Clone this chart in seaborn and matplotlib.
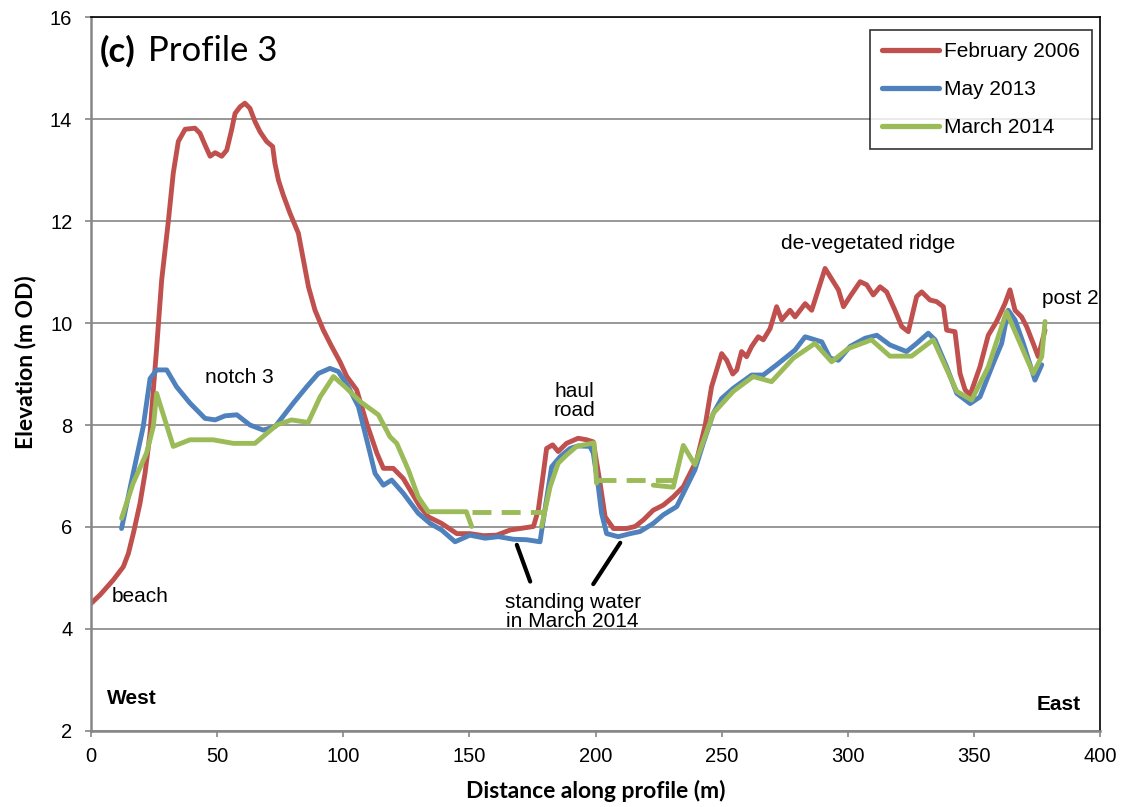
import numpy as np
import pandas as pd
import matplotlib
matplotlib.use("Agg")
import matplotlib.pyplot as plt
from matplotlib.lines import Line2D
import seaborn as sns

# ---------------- data ----------------
series_names = ["February 2006", "May 2013", "March 2014"]
series_colors = ["#C0504D", "#4F81BD", "#9BBB59"]

feb2006_x = [0, 3.6, 8.8, 12.8, 14.8, 16.8, 19.4, 21.4, 23.4, 24.7, 26, 28, 30.7, 32.6, 34.6,
             37.3, 41.2, 43.2, 45.2, 47.2, 49.2, 51.8, 53.8, 55.7, 57.1, 59.1, 61.0, 63.0, 65.0,
             67.0, 69.6, 72.0, 72.9, 74.3, 76.2, 78.9, 82.2, 84.2, 86.2, 88.8, 92.1, 95.4, 98.7,
             101.4, 105.3, 109.3, 113.3, 115.9, 119.8, 123.8, 130.4, 133.7, 139, 145, 150.2,
             155.5, 160.8, 166.1, 170.1, 175.4, 177.3, 179.3, 180.6, 183, 185.2, 188.5, 193.1,
             196.5, 199.1, 201.8, 203.8, 207.1, 212.3, 215.7, 219, 222.9, 226.9, 230.8, 234.8,
             240.1, 243.5, 246, 250, 252, 254.4, 256, 257.9, 259.9, 261.9, 264.5, 266.5, 269.2,
             271.8, 273.8, 277.1, 279.1, 283.1, 285.7, 291, 294.3, 296.3, 298.3, 300.9, 304.9,
             307.5, 310.1, 312.8, 315.4, 318.7, 321.4, 324, 327.3, 329.3, 332.6, 335.2, 337.9,
             339.2, 342.5, 344.5, 346.5, 348.5, 352.4, 355.7, 359, 362.3, 364.3, 366.3, 368.9,
             370.9, 373.5, 375.5, 378.2]
feb2006_y = [4.5, 4.67, 4.96, 5.22, 5.48, 5.88, 6.46, 7.05, 7.84, 8.69, 9.5, 10.84, 12.02, 12.94,
             13.56, 13.8, 13.82, 13.72, 13.49, 13.27, 13.34, 13.27, 13.39, 13.78, 14.11, 14.24,
             14.31, 14.21, 13.95, 13.75, 13.56, 13.46, 13.13, 12.8, 12.51, 12.15, 11.76, 11.24,
             10.71, 10.25, 9.86, 9.54, 9.24, 8.95, 8.69, 8.03, 7.45, 7.15, 7.15, 6.95, 6.4, 6.2,
             6.07, 5.87, 5.87, 5.83, 5.84, 5.94, 5.97, 6.01, 6.33, 7.05, 7.54, 7.61, 7.48, 7.64,
             7.74, 7.71, 7.67, 6.86, 6.2, 5.97, 5.97, 6.01, 6.14, 6.33, 6.43, 6.59, 6.79, 7.31,
             8.0, 8.75, 9.4, 9.27, 9.0, 9.08, 9.44, 9.34, 9.54, 9.73, 9.67, 9.89, 10.32, 10.06,
             10.25, 10.12, 10.38, 10.25, 11.07, 10.81, 10.65, 10.32, 10.52, 10.81, 10.75, 10.55,
             10.71, 10.61, 10.25, 9.93, 9.83, 10.52, 10.61, 10.45, 10.42, 10.32, 9.86, 9.83,
             9.01, 8.69, 8.59, 9.14, 9.76, 10.03, 10.38, 10.65, 10.25, 10.12, 9.93, 9.6, 9.34,
             9.86]

may2013_x = [12.1, 16.7, 20.7, 23.4, 26, 30, 33.9, 39.2, 45.2, 49.2, 53.1, 57.8, 63, 68.3, 73,
             80.2, 85.5, 90.1, 94.7, 98, 102, 106, 109.3, 112.6, 115.9, 119.2, 123.8, 129.7,
             134.4, 139, 144.3, 150.2, 156.2, 161.5, 167.4, 172.7, 178, 179.3, 182.6, 186,
             189.9, 193.1, 197.8, 199.1, 201.1, 202.4, 204.4, 209, 213.7, 217.6, 222.9, 226.9,
             232.2, 236.1, 239.4, 242.7, 246.7, 250, 254.6, 261.9, 266.5, 271.8, 279.1, 283.1,
             289.7, 293, 296.3, 300.9, 306.8, 311.5, 316.7, 323.3, 327.3, 331.9, 334.6, 339.2,
             343.2, 348.5, 352.4, 357.7, 361, 363.6, 366.3, 369.6, 374.2, 376.9]
may2013_y = [5.97, 7.05, 7.97, 8.91, 9.08, 9.08, 8.75, 8.43, 8.13, 8.1, 8.18, 8.2, 8.0, 7.9, 7.97,
             8.43, 8.75, 9.01, 9.11, 9.05, 8.75, 8.36, 7.71, 7.05, 6.82, 6.92, 6.66, 6.27, 6.07,
             5.94, 5.71, 5.84, 5.78, 5.81, 5.76, 5.75, 5.71, 6.14, 7.18, 7.38, 7.54, 7.59, 7.58,
             7.45, 6.79, 6.27, 5.87, 5.81, 5.87, 5.91, 6.07, 6.24, 6.4, 6.79, 7.12, 7.64, 8.23,
             8.52, 8.72, 8.98, 8.98, 9.18, 9.47, 9.73, 9.63, 9.31, 9.27, 9.54, 9.7, 9.76, 9.57,
             9.44, 9.6, 9.8, 9.67, 9.14, 8.62, 8.42, 8.55, 9.21, 9.6, 10.25, 10.06, 9.6, 8.88,
             9.18]

# March 2014 survey (three surveyed stretches, separated by standing water)
mar2014_x = [12.1, 16.7, 22, 24.7, 26, 29.3, 32.6, 39.2, 48.4, 56.4, 65, 73.6, 79.5, 86.1, 90.8,
             96.1, 100.7, 106.7, 113.9, 118.5, 121.2, 125.8, 129.7, 133.7, 148.8, 150.9,
             178.6, 182, 185.2, 188.5, 192.5, 199.4, 200.4,
             222.9, 230.8, 234.8, 239.4, 246.7, 254.6, 262.5, 269.8, 278.4, 287, 293.6, 300.2,
             309.4, 316.7, 325.3, 333.9, 343.2, 349.1, 355.7, 362.9, 373.5, 376.9, 378.2]
mar2014_y = [6.17, 6.86, 7.45, 7.97, 8.62, 8.1, 7.58, 7.71, 7.71, 7.64, 7.64, 8.0, 8.1, 8.05, 8.55,
             8.95, 8.75, 8.46, 8.2, 7.77, 7.64, 7.12, 6.59, 6.3, 6.3, 6.01,
             6.01, 6.79, 7.25, 7.41, 7.58, 7.65, 6.86,
             6.82, 6.78, 7.6, 7.22, 8.23, 8.66, 8.95, 8.85, 9.31, 9.6, 9.24, 9.5,
             9.67, 9.35, 9.35, 9.67, 8.66, 8.49, 9.14, 10.22, 9.01, 9.34, 10.03]
mar2014_seg = [1] * 26 + [2] * 7 + [3] * 23

# standing water levels in March 2014
water1_x = [150.9, 180.0]
water1_y = [6.3, 6.3]
water2_x = [200.4, 231.0]
water2_y = [6.93, 6.93]

x_ticks = [0, 50, 100, 150, 200, 250, 300, 350, 400]
y_ticks = [2, 4, 6, 8, 10, 12, 14, 16]

# ---------------- frame ----------------
frames = [
    pd.DataFrame({"x": feb2006_x, "y": feb2006_y, "series": series_names[0], "seg": "a"}),
    pd.DataFrame({"x": may2013_x, "y": may2013_y, "series": series_names[1], "seg": "b"}),
    pd.DataFrame({"x": mar2014_x, "y": mar2014_y, "series": series_names[2],
                  "seg": ["c%d" % s for s in mar2014_seg]}),
]
df = pd.concat(frames, ignore_index=True)
palette = dict(zip(series_names, series_colors))

sns.set_style("white")
plt.rcParams["font.family"] = ["Liberation Sans", "DejaVu Sans"]
plt.rcParams["text.color"] = "black"
plt.rcParams["axes.labelcolor"] = "black"
plt.rcParams["xtick.color"] = "black"
plt.rcParams["ytick.color"] = "black"

fig = plt.figure(figsize=(11.28, 8.07), dpi=100)
ax = fig.add_axes([0.0807, 0.0942, 0.8945, 0.8847])

lw = 3.5
sns.lineplot(data=df, x="x", y="y", hue="series", units="seg", estimator=None, sort=False,
             hue_order=series_names, palette=palette, linewidth=lw, ax=ax, legend=False,
             solid_joinstyle="round", solid_capstyle="round")

for wx, wy in [(water1_x, water1_y), (water2_x, water2_y)]:
    sns.lineplot(x=wx, y=wy, color=series_colors[2], linewidth=lw,
                 linestyle=(0, (3.9, 2.1)), ax=ax, legend=False)

ax.set_xlim(0, 400)
ax.set_ylim(2, 16)
ax.set_xticks(x_ticks)
ax.set_yticks(y_ticks)

grid_col = "#868686"
ax.set_axisbelow(True)
ax.yaxis.grid(True, color=grid_col, linewidth=1.2)
ax.xaxis.grid(False)
for side in ["left", "bottom"]:
    ax.spines[side].set_color(grid_col)
    ax.spines[side].set_linewidth(1.8)
for side in ["top", "right"]:
    ax.spines[side].set_color("black")
    ax.spines[side].set_linewidth(1.2)

ax.tick_params(axis="both", which="major", direction="out", length=4.5, width=1.2,
               color=grid_col, labelsize=14.5, bottom=True, left=True,
               labelcolor="black")
ax.tick_params(axis="y", pad=9)
ax.tick_params(axis="x", pad=7)

lab_font = ["Lato", "DejaVu Sans"]
ax.set_xlabel("Distance along profile (m)", fontsize=16.5, fontweight="bold",
              family=lab_font)
ax.set_ylabel("Elevation (m OD)", fontsize=16.5, fontweight="bold",
              family=lab_font)
ax.xaxis.set_label_coords(0.5, -0.068)
ax.yaxis.set_label_coords(-0.054, 0.517)

# title
ax.text(3.6, 15.33, "(c)", fontsize=25, fontweight="bold", family=lab_font, va="center",
        ha="left")
ax.text(22.4, 15.33, "Profile 3", fontsize=25, family=lab_font, va="center", ha="left")

# annotations
fs = 15
ax.text(8.3, 4.63, "beach", fontsize=fs, ha="left", va="center")
ax.text(45.2, 8.94, "notch 3", fontsize=fs, ha="left", va="center")
ax.text(191.8, 8.47, "haul\nroad", fontsize=fs, ha="center", va="center", linespacing=1.05)
ax.text(190.9, 4.33, "standing water\nin March 2014", fontsize=fs, ha="center", va="center",
        linespacing=1.0)
ax.text(308.2, 11.55, "de-vegetated ridge", fontsize=fs, ha="center", va="center")
ax.text(376.9, 10.49, "post 2", fontsize=fs, ha="left", va="center")
ax.text(6.4, 2.63, "West", fontsize=fs, fontweight="bold", ha="left", va="center")
ax.text(374.9, 2.51, "East", fontsize=fs, fontweight="bold", ha="left", va="center")

ax.annotate("", xy=(168.8, 5.65), xytext=(174.1, 4.93),
            arrowprops=dict(arrowstyle="-", lw=3, color="black", shrinkA=0, shrinkB=0))
ax.annotate("", xy=(209.8, 5.69), xytext=(199.1, 4.88),
            arrowprops=dict(arrowstyle="-", lw=3, color="black", shrinkA=0, shrinkB=0))

# legend
handles = [Line2D([0], [0], color=c, lw=3.8, solid_capstyle="round") for c in series_colors]
leg = ax.legend(handles, series_names, loc="upper right", bbox_to_anchor=(0.992, 0.982),
                fontsize=fs, frameon=True, fancybox=False, edgecolor="black",
                handlelength=2.75, handletextpad=0.2, labelspacing=0.9, borderpad=0.6,
                borderaxespad=0.0)
leg.get_frame().set_linewidth(1.2)

fig.savefig("out.png", dpi=100)
